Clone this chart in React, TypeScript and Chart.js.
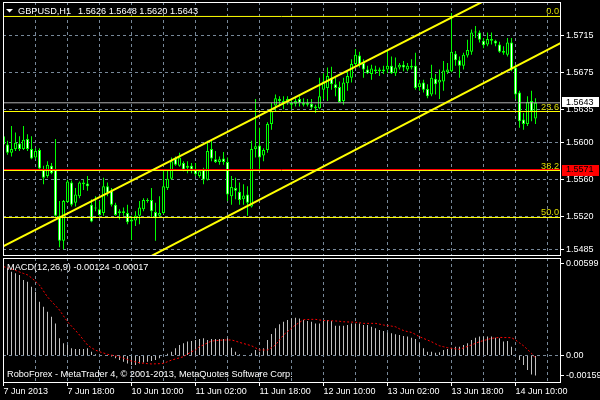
import React, { useEffect, useRef } from 'react';
import { Chart, registerables } from 'chart.js';
Chart.register(...registerables);

// ---------- DATA ----------
const opens = [1.5607,1.5598,1.5589,1.5593,1.5599,1.5593,1.5604,1.5593,1.5584,1.5592,1.5571,1.5564,1.5575,1.5571,1.5521,1.5494,1.5536,1.5557,1.5535,1.5542,1.5557,1.5556,1.5533,1.5529,1.5528,1.5524,1.5553,1.5548,1.5533,1.5524,1.5526,1.5524,1.5515,1.5516,1.5521,1.5528,1.5538,1.5538,1.5525,1.5521,1.5524,1.5551,1.5561,1.5583,1.5575,1.5578,1.5573,1.5575,1.5571,1.5564,1.5571,1.5560,1.5593,1.5582,1.5579,1.5583,1.5579,1.5542,1.5551,1.5547,1.5539,1.5544,1.5531,1.5593,1.5597,1.5586,1.5592,1.5620,1.5640,1.5647,1.5645,1.5644,1.5643,1.5642,1.5647,1.5643,1.5641,1.5642,1.5639,1.5637,1.5657,1.5659,1.5670,1.5663,1.5660,1.5645,1.5664,1.5670,1.5685,1.5694,1.5686,1.5679,1.5674,1.5679,1.5677,1.5679,1.5679,1.5683,1.5675,1.5681,1.5684,1.5679,1.5683,1.5683,1.5660,1.5665,1.5658,1.5652,1.5669,1.5665,1.5666,1.5676,1.5677,1.5696,1.5689,1.5683,1.5694,1.5698,1.5719,1.5719,1.5710,1.5706,1.5712,1.5710,1.5706,1.5697,1.5695,1.5708,1.5681,1.5654,1.5625,1.5620,1.5645,1.5626];
const highs = [1.5616,1.5602,1.5618,1.5611,1.5607,1.5618,1.5609,1.5607,1.5594,1.5594,1.5575,1.5580,1.5578,1.5604,1.5537,1.5538,1.5560,1.5559,1.5551,1.5558,1.5560,1.5564,1.5539,1.5542,1.5537,1.5562,1.5557,1.5551,1.5535,1.5528,1.5530,1.5533,1.5521,1.5526,1.5537,1.5540,1.5540,1.5551,1.5535,1.5542,1.5571,1.5571,1.5584,1.5585,1.5589,1.5580,1.5580,1.5578,1.5578,1.5571,1.5573,1.5602,1.5602,1.5591,1.5585,1.5590,1.5584,1.5564,1.5562,1.5557,1.5555,1.5553,1.5602,1.5647,1.5616,1.5594,1.5622,1.5643,1.5652,1.5650,1.5650,1.5650,1.5647,1.5648,1.5650,1.5648,1.5647,1.5647,1.5641,1.5670,1.5675,1.5681,1.5682,1.5670,1.5666,1.5670,1.5677,1.5690,1.5701,1.5698,1.5690,1.5683,1.5684,1.5683,1.5681,1.5683,1.5699,1.5693,1.5692,1.5686,1.5688,1.5686,1.5690,1.5697,1.5668,1.5668,1.5663,1.5684,1.5674,1.5679,1.5688,1.5686,1.5740,1.5699,1.5693,1.5697,1.5711,1.5722,1.5726,1.5721,1.5713,1.5719,1.5719,1.5711,1.5709,1.5704,1.5713,1.5713,1.5684,1.5656,1.5632,1.5650,1.5656,1.5648];
const lows = [1.5596,1.5587,1.5585,1.5591,1.5591,1.5592,1.5591,1.5582,1.5582,1.5571,1.5555,1.5562,1.5566,1.5520,1.5487,1.5485,1.5535,1.5531,1.5531,1.5540,1.5549,1.5548,1.5514,1.5526,1.5521,1.5521,1.5542,1.5531,1.5521,1.5517,1.5521,1.5512,1.5495,1.5510,1.5512,1.5526,1.5535,1.5519,1.5494,1.5520,1.5523,1.5549,1.5560,1.5575,1.5574,1.5569,1.5567,1.5567,1.5564,1.5562,1.5555,1.5559,1.5580,1.5578,1.5576,1.5576,1.5537,1.5533,1.5539,1.5533,1.5533,1.5521,1.5530,1.5584,1.5569,1.5580,1.5589,1.5614,1.5634,1.5639,1.5636,1.5641,1.5636,1.5639,1.5639,1.5639,1.5639,1.5636,1.5632,1.5636,1.5647,1.5645,1.5657,1.5650,1.5643,1.5641,1.5656,1.5665,1.5683,1.5681,1.5670,1.5674,1.5668,1.5674,1.5672,1.5674,1.5675,1.5674,1.5672,1.5679,1.5677,1.5677,1.5679,1.5657,1.5656,1.5654,1.5648,1.5650,1.5652,1.5647,1.5656,1.5674,1.5676,1.5683,1.5670,1.5679,1.5692,1.5695,1.5713,1.5708,1.5702,1.5704,1.5706,1.5704,1.5697,1.5695,1.5693,1.5677,1.5647,1.5616,1.5614,1.5618,1.5623,1.5620];
const closes = [1.5598,1.5589,1.5593,1.5600,1.5593,1.5603,1.5593,1.5583,1.5591,1.5572,1.5562,1.5576,1.5567,1.5521,1.5494,1.5537,1.5558,1.5533,1.5544,1.5557,1.5555,1.5553,1.5515,1.5530,1.5522,1.5553,1.5546,1.5533,1.5522,1.5526,1.5524,1.5514,1.5517,1.5521,1.5530,1.5538,1.5537,1.5526,1.5519,1.5524,1.5553,1.5561,1.5580,1.5576,1.5584,1.5571,1.5575,1.5571,1.5566,1.5569,1.5560,1.5591,1.5583,1.5579,1.5582,1.5579,1.5544,1.5552,1.5548,1.5538,1.5543,1.5535,1.5593,1.5596,1.5584,1.5592,1.5620,1.5634,1.5648,1.5645,1.5642,1.5647,1.5641,1.5645,1.5643,1.5641,1.5643,1.5638,1.5637,1.5650,1.5666,1.5672,1.5663,1.5659,1.5644,1.5665,1.5672,1.5685,1.5695,1.5684,1.5679,1.5675,1.5680,1.5677,1.5679,1.5677,1.5683,1.5675,1.5681,1.5684,1.5681,1.5683,1.5681,1.5659,1.5664,1.5657,1.5650,1.5670,1.5663,1.5668,1.5678,1.5679,1.5698,1.5689,1.5683,1.5695,1.5700,1.5719,1.5720,1.5711,1.5705,1.5712,1.5710,1.5707,1.5698,1.5699,1.5708,1.5679,1.5652,1.5623,1.5620,1.5644,1.5634,1.5643];

const macdMain = [0.00551,0.00541,0.00520,0.00510,0.00500,0.00468,0.00458,0.00427,0.00396,0.00334,0.00303,0.00272,0.00240,0.00199,0.00106,0.00075,0.00065,0.00044,0.00040,0.00040,0.00040,0.00044,0.00023,0.00007,0.00004,0.00002,-0.00002,-0.00006,-0.00018,-0.00029,-0.00039,-0.00050,-0.00060,-0.00060,-0.00050,-0.00044,-0.00040,-0.00035,-0.00029,-0.00018,-0.00005,0.00010,0.00023,0.00044,0.00065,0.00075,0.00086,0.00090,0.00096,0.00102,0.00106,0.00096,0.00102,0.00102,0.00102,0.00102,0.00106,0.00048,0.00023,0.00007,0.00001,-0.00004,0.00013,0.00034,0.00023,0.00044,0.00096,0.00133,0.00168,0.00193,0.00209,0.00220,0.00230,0.00234,0.00230,0.00220,0.00214,0.00209,0.00199,0.00199,0.00214,0.00220,0.00214,0.00185,0.00185,0.00185,0.00189,0.00199,0.00199,0.00199,0.00189,0.00189,0.00178,0.00168,0.00158,0.00152,0.00143,0.00137,0.00131,0.00127,0.00120,0.00117,0.00110,0.00102,0.00075,0.00044,0.00023,0.00023,0.00017,0.00019,0.00034,0.00040,0.00048,0.00054,0.00054,0.00065,0.00075,0.00096,0.00110,0.00117,0.00117,0.00117,0.00117,0.00110,0.00106,0.00086,0.00090,0.00054,0.00000,-0.00029,-0.00060,-0.00091,-0.00118,-0.00124];
const macdSignal = [0.00551,0.00545,0.00537,0.00528,0.00518,0.00509,0.00500,0.00482,0.00460,0.00437,0.00400,0.00363,0.00336,0.00309,0.00282,0.00245,0.00209,0.00182,0.00155,0.00127,0.00096,0.00065,0.00047,0.00033,0.00023,0.00015,0.00007,0.00002,-0.00003,-0.00008,-0.00017,-0.00026,-0.00035,-0.00040,-0.00045,-0.00049,-0.00051,-0.00053,-0.00052,-0.00051,-0.00049,-0.00039,-0.00029,-0.00022,-0.00015,-0.00008,0.00008,0.00023,0.00034,0.00055,0.00065,0.00078,0.00089,0.00092,0.00094,0.00096,0.00096,0.00096,0.00089,0.00081,0.00074,0.00067,0.00060,0.00047,0.00034,0.00034,0.00034,0.00048,0.00065,0.00096,0.00127,0.00148,0.00169,0.00189,0.00205,0.00222,0.00223,0.00224,0.00224,0.00220,0.00217,0.00216,0.00215,0.00214,0.00212,0.00209,0.00208,0.00207,0.00206,0.00203,0.00199,0.00199,0.00199,0.00199,0.00194,0.00189,0.00185,0.00182,0.00178,0.00165,0.00155,0.00148,0.00143,0.00130,0.00116,0.00106,0.00095,0.00085,0.00072,0.00060,0.00054,0.00048,0.00044,0.00041,0.00038,0.00047,0.00056,0.00065,0.00075,0.00085,0.00092,0.00099,0.00106,0.00109,0.00112,0.00111,0.00111,0.00110,0.00096,0.00078,0.00060,0.00037,0.00013,-0.00017];

const priceTickValues = [1.571565, 1.567538, 1.563577, 1.559982, 1.556021, 1.552059, 1.548464];
const priceTickLabels = ['1.5715', '1.5675', '1.5635', '1.5600', '1.5560', '1.5520', '1.5485'];
const macdTickValues = [0.00568, 0, -0.00122];
const macdTickLabels = ['0.00599', '0.00', '-0.00159'];
const gridBars = [0, 8, 16, 24, 32, 40, 48, 56, 64, 72, 80, 88, 96, 104, 112, 120, 128, 136];
const timeTickBars = [0, 16, 32, 48, 64, 80, 96, 112, 128];
const timeTickLabels = ['7 Jun 2013', '7 Jun 18:00', '10 Jun 10:00', '11 Jun 02:00', '11 Jun 18:00', '12 Jun 10:00', '13 Jun 02:00', '13 Jun 18:00', '14 Jun 10:00'];

const fibLabels = ['0.0', '23.6', '38.2', '50.0'];
const fibPrices = [1.57362, 1.56336, 1.55699, 1.55192];
const upperChannelBars = [-2, 122];
const upperChannelPrices = [1.5484, 1.5757];
const lowerChannelBars = [30, 140];
const lowerChannelPrices = [1.5462, 1.5709];
const alertPrice = 1.5571;
const bidPrice = 1.5643;

const symbolTitle = 'GBPUSD,H1';
const titleQuotes = ['1.5626', '1.5648', '1.5620', '1.5643'];
const macdTitle = 'MACD(12,26,9) -0.00124 -0.00017';
const copyrightText = 'RoboForex - MetaTrader 4, \u00A9 2001-2013, MetaQuotes Software Corp.';

// ---------- STYLE ----------
const X_MIN = -0.125;
const X_MAX = 139.125;
const PRICE_MIN = 1.547871;
const PRICE_MAX = 1.575181;
const MACD_MIN = -0.00165;
const MACD_MAX = 0.00605;
const FONT = '"Liberation Sans", Arial, sans-serif';
const GRID = '#778899';
const LIME = '#00ff00';
const YELLOW = '#ffff00';
const FIB_TEXT = '#dcdc00';
const CLEAR = 'rgba(0,0,0,0)';

function hLine(p: number) {
  return [{ x: X_MIN - 2, y: p }, { x: X_MAX + 2, y: p }];
}

function noPad(s: any) {
  s.paddingTop = 0; s.paddingBottom = 0; s.paddingLeft = 0; s.paddingRight = 0;
}

function frame(ctx: any, a: any) {
  ctx.save();
  ctx.strokeStyle = '#ffffff';
  ctx.lineWidth = 1;
  ctx.strokeRect(a.left + 0.5, a.top + 0.5, a.right - a.left, a.bottom - a.top);
  ctx.restore();
}

function mainConfig(): any {
  const idx = opens.map((_, i) => i);
  const lineBase = { type: 'line', pointRadius: 0, tension: 0, clip: 0, fill: false };
  return {
    type: 'bar',
    data: {
      datasets: [
        { ...lineBase, data: upperChannelBars.map((b, k) => ({ x: b, y: upperChannelPrices[k] })), borderColor: YELLOW, borderWidth: 2, order: 0 },
        { ...lineBase, data: lowerChannelBars.map((b, k) => ({ x: b, y: lowerChannelPrices[k] })), borderColor: YELLOW, borderWidth: 2, order: 0 },
        { ...lineBase, data: hLine(alertPrice), borderColor: '#ff0000', borderWidth: 1, order: 1 },
        ...fibPrices.map((p) => ({ ...lineBase, data: hLine(p), borderColor: YELLOW, borderWidth: 1, order: 2 })),
        { ...lineBase, data: hLine(bidPrice), borderColor: '#b0b0b0', borderWidth: 1, order: 2 },
        {
          type: 'bar', data: idx.map((i) => ({ x: i, y: [opens[i], closes[i]] })),
          barThickness: 3, borderWidth: 1, borderColor: LIME, borderSkipped: false, minBarLength: 1,
          backgroundColor: (c: any) => (closes[c.dataIndex] >= opens[c.dataIndex] ? '#000000' : '#ffffff'),
          inflateAmount: 0, grouped: false, clip: 0, order: 3,
        },
        {
          type: 'bar', data: idx.map((i) => ({ x: i, y: [lows[i], highs[i]] })),
          barThickness: 1, borderWidth: 0, backgroundColor: LIME, inflateAmount: 0, grouped: false, clip: 0, order: 4,
        },
      ],
    },
    options: {
      responsive: false, animation: false, events: [], devicePixelRatio: 1,
      layout: { padding: { left: 3, top: 2, right: 0, bottom: 2 }, autoPadding: false },
      plugins: { legend: { display: false }, tooltip: { enabled: false } },
      scales: {
        x: {
          type: 'linear', min: X_MIN, max: X_MAX, offset: false,
          grid: { color: GRID, lineWidth: 1, drawTicks: false, offset: false },
          border: { display: false, dash: [3, 3] },
          ticks: { display: false, autoSkip: false },
          afterBuildTicks: (s: any) => { s.ticks = gridBars.map((v) => ({ value: v })); },
          afterFit: (s: any) => { s.height = 0; noPad(s); },
        },
        y: {
          type: 'linear', position: 'right', min: PRICE_MIN, max: PRICE_MAX,
          grid: { color: GRID, lineWidth: 1, drawTicks: true, tickLength: 4, tickColor: '#ffffff' },
          border: { display: false, dash: [3, 3] },
          ticks: {
            color: '#ffffff', font: { family: FONT, size: 9 }, padding: 2, autoSkip: false,
            callback: (v: any) => { const k = priceTickValues.indexOf(v); return k >= 0 ? priceTickLabels[k] : ''; },
          },
          afterBuildTicks: (s: any) => { s.ticks = priceTickValues.map((v) => ({ value: v })); },
          afterFit: (s: any) => { s.width = 40; noPad(s); },
        },
      },
    },
    plugins: [{
      id: 'mainDecor',
      afterDraw(chart: any) {
        const { ctx, chartArea: a, scales } = chart;
        const ys = scales.y;
        frame(ctx, a);
        ctx.save();
        ctx.font = `9.2px ${FONT}`;
        // fib labels
        ctx.fillStyle = FIB_TEXT;
        ctx.textAlign = 'right';
        ctx.textBaseline = 'alphabetic';
        fibPrices.forEach((p, k) => ctx.fillText(fibLabels[k], a.right - 1, Math.round(ys.getPixelForValue(p)) - 2));
        // title
        ctx.fillStyle = '#ffffff';
        ctx.beginPath();
        ctx.moveTo(6, 9); ctx.lineTo(13, 9); ctx.lineTo(9.5, 12.5); ctx.closePath(); ctx.fill();
        ctx.textAlign = 'left';
        ctx.fillText(symbolTitle, 18, 14);
        ctx.fillText(titleQuotes.join(' '), 78, 14);
        // price labels
        ctx.font = `9px ${FONT}`;
        ctx.textBaseline = 'middle';
        const by = ys.getPixelForValue(bidPrice);
        ctx.fillStyle = '#ffffff';
        ctx.fillRect(562, Math.round(by) - 6, 37, 10);
        ctx.fillStyle = '#000000';
        ctx.fillText(bidPrice.toFixed(4), 566, by - 0.5);
        const ry = ys.getPixelForValue(alertPrice);
        ctx.fillStyle = '#ff0000';
        ctx.fillRect(562, Math.round(ry) - 5, 37, 11);
        ctx.fillStyle = '#000000';
        ctx.fillText(alertPrice.toFixed(4), 566, ry + 0.5);
        ctx.restore();
      },
    }],
  };
}

function macdConfig(): any {
  return {
    type: 'bar',
    data: {
      datasets: [
        {
          type: 'line', data: macdSignal.map((v, i) => ({ x: i, y: v })), borderColor: '#ff0000', borderWidth: 1,
          borderDash: [2, 2], pointRadius: 0, tension: 0, clip: 0, fill: false, order: 0,
        },
        {
          type: 'bar', data: macdMain.map((v, i) => ({ x: i, y: v })), backgroundColor: '#c0c0c0',
          barThickness: 1, borderWidth: 0, inflateAmount: 0, grouped: false, clip: 0, order: 1,
        },
      ],
    },
    options: {
      responsive: false, animation: false, events: [], devicePixelRatio: 1,
      layout: { padding: { left: 3, top: 1, right: 0, bottom: 0 }, autoPadding: false },
      plugins: { legend: { display: false }, tooltip: { enabled: false } },
      scales: {
        x: {
          type: 'linear', min: X_MIN, max: X_MAX, offset: false,
          grid: {
            color: GRID, lineWidth: 1, drawTicks: true, tickLength: 4, offset: false,
            tickColor: (c: any) => (c.tick && timeTickBars.indexOf(c.tick.value) >= 0 ? '#ffffff' : CLEAR),
          },
          border: { display: false, dash: [3, 3] },
          ticks: {
            color: '#ffffff', font: { family: FONT, size: 9 }, padding: 0, align: 'start',
            autoSkip: false, maxRotation: 0, minRotation: 0,
            callback: (v: any) => { const k = timeTickBars.indexOf(v); return k >= 0 ? timeTickLabels[k] : ''; },
          },
          afterBuildTicks: (s: any) => { s.ticks = gridBars.map((v) => ({ value: v })); },
          afterFit: (s: any) => { s.height = 18; noPad(s); },
        },
        y: {
          type: 'linear', position: 'right', min: MACD_MIN, max: MACD_MAX, beginAtZero: false,
          grid: {
            color: (c: any) => (c.tick && c.tick.value === 0 ? GRID : CLEAR),
            lineWidth: 1, drawTicks: true, tickLength: 4, tickColor: '#ffffff',
          },
          border: { display: false, dash: [3, 3] },
          ticks: {
            color: '#ffffff', font: { family: FONT, size: 9 }, padding: 2, autoSkip: false,
            callback: (v: any) => { const k = macdTickValues.indexOf(v); return k >= 0 ? macdTickLabels[k] : ''; },
          },
          afterBuildTicks: (s: any) => { s.ticks = macdTickValues.map((v) => ({ value: v })); },
          afterFit: (s: any) => { s.width = 40; noPad(s); },
        },
      },
    },
    plugins: [{
      id: 'macdDecor',
      afterDraw(chart: any) {
        const { ctx, chartArea: a } = chart;
        frame(ctx, a);
        ctx.save();
        ctx.font = `9.2px ${FONT}`;
        ctx.fillStyle = '#ffffff';
        ctx.textAlign = 'left';
        ctx.textBaseline = 'alphabetic';
        ctx.fillText(macdTitle, 7, 13);
        ctx.fillText(copyrightText, 7, 119.5);
        ctx.restore();
      },
    }],
  };
}

export default function App() {
  const refA = useRef<HTMLCanvasElement>(null);
  const refB = useRef<HTMLCanvasElement>(null);
  useEffect(() => {
    const a = new Chart(refA.current as HTMLCanvasElement, mainConfig());
    const b = new Chart(refB.current as HTMLCanvasElement, macdConfig());
    return () => { a.destroy(); b.destroy(); };
  }, []);
  return (
    <div style={{ position: 'absolute', left: 0, top: 0, width: 600, height: 400, background: '#000000', overflow: 'hidden' }}>
      <canvas ref={refA} width={600} height={257} style={{ position: 'absolute', left: 0, top: 0, width: 600, height: 257 }} />
      <canvas ref={refB} width={600} height={143} style={{ position: 'absolute', left: 0, top: 257, width: 600, height: 143 }} />
    </div>
  );
}
